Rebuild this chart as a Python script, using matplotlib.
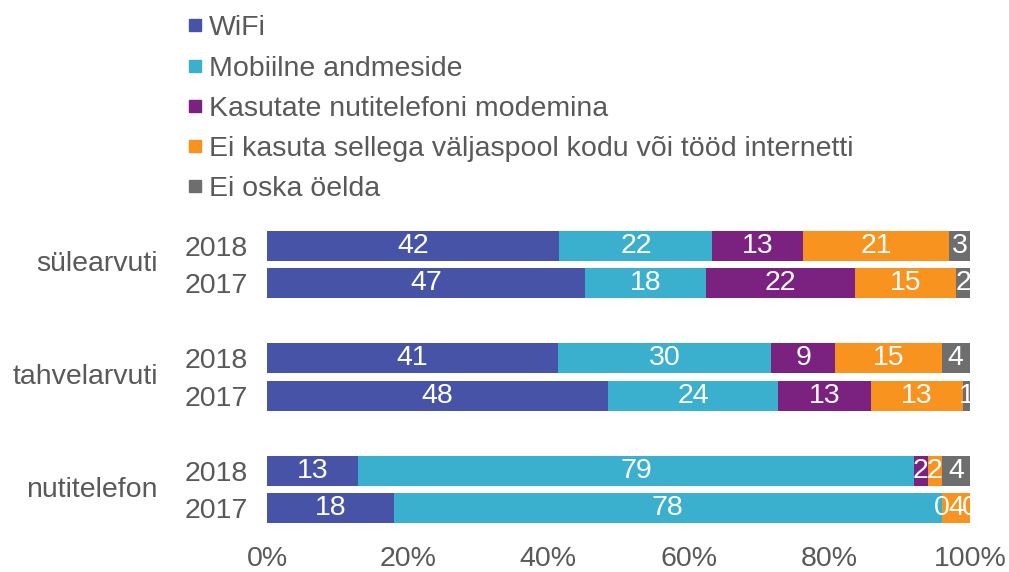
import matplotlib.pyplot as plt
from matplotlib.lines import Line2D
from matplotlib.transforms import blended_transform_factory
import numpy as np

plt.rcParams['font.family'] = ['Liberation Sans', 'DejaVu Sans']

series = ['WiFi', 'Mobiilne andmeside', 'Kasutate nutitelefoni modemina',
          'Ei kasuta sellega väljaspool kodu või tööd internetti', 'Ei oska öelda']
colors = ['#4753a6', '#3bb0ce', '#7b2180', '#f7931e', '#6e6e6e']
devices = ['sülearvuti', 'tahvelarvuti', 'nutitelefon']
years = ['2018', '2017', '2018', '2017', '2018', '2017']

# rows: sülearvuti 2018, 2017, tahvelarvuti 2018, 2017, nutitelefon 2018, 2017
wifi = [42, 47, 41, 48, 13, 18]
mobiilne = [22, 18, 30, 24, 79, 78]
modem = [13, 22, 9, 13, 2, 0]
ei_kasuta = [21, 15, 15, 13, 2, 4]
ei_oska = [3, 2, 4, 1, 4, 0]

vals = np.array([wifi, mobiilne, modem, ei_kasuta, ei_oska], dtype=float)
share = vals / vals.sum(axis=0) * 100

ypos = np.array([0, 1, 3.05, 4.05, 6.1, 7.1])
fs = 20.5

fig = plt.figure(figsize=(10.09, 5.72), dpi=100)
ax = fig.add_axes([267 / 1009, 1 - 527 / 572, 703 / 1009, 300 / 572])

left = np.zeros(len(ypos))
for i in range(len(series)):
    ax.barh(ypos, share[i], left=left, height=0.81, color=colors[i], label=series[i])
    for j in range(len(ypos)):
        ax.text(left[j] + share[i][j] / 2, ypos[j], '%d' % vals[i][j],
                ha='center', va='center', color='white', fontsize=fs)
    left += share[i]

ax.set_xlim(0, 100)
ax.set_ylim(7.6, -0.5)
ax.set_xticks(range(0, 101, 20))
ax.set_xticklabels(['%d%%' % t for t in range(0, 101, 20)])
ax.set_yticks(ypos)
ax.set_yticklabels(years)
ax.tick_params(length=0, labelsize=fs, labelcolor='#595959')
ax.tick_params(axis='x', pad=14)
ax.tick_params(axis='y', pad=13.5)
for s in ax.spines.values():
    s.set_visible(False)

tr = blended_transform_factory(fig.transFigure, ax.transData)
for k, d in enumerate(devices):
    yc = (ypos[2 * k] + ypos[2 * k + 1]) / 2
    ax.text(158 / 1009, yc, d, transform=tr, ha='right', va='center',
            fontsize=fs, color='#595959')

handles = [Line2D([], [], marker='s', linestyle='none', markersize=8,
                  markerfacecolor=c, markeredgecolor=c) for c in colors]
fig.legend(handles, series, loc='upper left', bbox_to_anchor=(176 / 1009, 1 - 4 / 572),
           frameon=False, fontsize=fs, labelcolor='#595959',
           handlelength=0.5, handletextpad=0.25, labelspacing=0.5, borderaxespad=0)

fig.savefig('out.png', dpi=100)
